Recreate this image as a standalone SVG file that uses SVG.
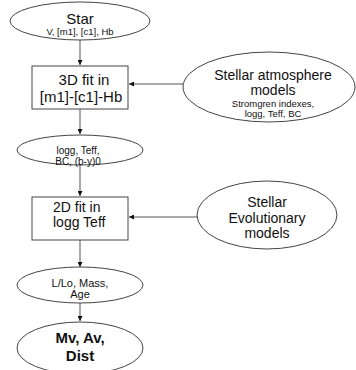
<svg xmlns="http://www.w3.org/2000/svg" width="356" height="370" viewBox="0 0 356 370">
<style>
.s{fill:#fff;stroke:#444;stroke-width:1}
.c{stroke:#555;stroke-width:1;fill:none}
text{font-family:"Liberation Sans",Arial,sans-serif;fill:#111;text-anchor:middle}
.l{font-size:14px}
.x{font-size:15px}
.m{font-size:9.5px}
.t{font-size:10px}
.u{font-size:11px}
.b{font-size:15px;font-weight:bold}
</style>
<defs>
<marker id="a" viewBox="0 0 6 6" refX="6" refY="3" markerWidth="5" markerHeight="5" orient="auto"><path d="M0,0L6,3L0,6z" fill="#111"/></marker>
</defs>
<rect width="356" height="370" fill="#fff"/>
<g id="connectors">
<line class="c" x1="80" y1="40" x2="80" y2="65" marker-end="url(#a)"/>
<line class="c" x1="183" y1="84" x2="129" y2="84" marker-end="url(#a)"/>
<line class="c" x1="80" y1="109" x2="80" y2="134" marker-end="url(#a)"/>
<line class="c" x1="80" y1="165" x2="80" y2="196" marker-end="url(#a)"/>
<line class="c" x1="197" y1="217" x2="129" y2="217" marker-end="url(#a)"/>
<line class="c" x1="80" y1="240" x2="80" y2="267" marker-end="url(#a)"/>
<line class="c" x1="80" y1="303" x2="80" y2="321" marker-end="url(#a)"/>
</g>
<g id="star">
<ellipse class="s" cx="80" cy="21" rx="70" ry="19"/>
<text class="x" x="80" y="24">Star</text>
<text class="m" x="80" y="35">V, [m1], [c1], Hb</text>
</g>
<g id="fit3d">
<rect class="s" x="32" y="66" width="96" height="43"/>
<text class="x" x="84" y="85">3D fit in</text>
<text class="x" x="81" y="102">[m1]-[c1]-Hb</text>
</g>
<g id="atmos">
<ellipse class="s" cx="269" cy="87" rx="86" ry="35"/>
<text class="l" x="273" y="80">Stellar atmosphere</text>
<text class="l" x="273" y="95">models</text>
<text class="m" x="273" y="107">Stromgren indexes,</text>
<text class="m" x="273" y="117">logg, Teff, BC</text>
</g>
<g id="logg">
<ellipse class="s" cx="80" cy="150" rx="63" ry="15"/>
<text class="t" x="78" y="154">logg, Teff,</text>
<text class="t" x="78" y="165">BC, (b-y)0</text>
</g>
<g id="fit2d">
<rect class="s" x="32" y="197" width="96" height="43"/>
<text class="l" x="53" y="212" style="text-anchor:start">2D fit in</text>
<text class="l" x="53" y="227" style="text-anchor:start">logg Teff</text>
</g>
<g id="evol">
<ellipse class="s" cx="267" cy="215" rx="70" ry="34"/>
<text class="l" x="267" y="207">Stellar</text>
<text class="l" x="267" y="223">Evolutionary</text>
<text class="l" x="267" y="238">models</text>
</g>
<g id="lum">
<ellipse class="s" cx="80" cy="285" rx="63" ry="18"/>
<text class="u" x="80" y="287">L/Lo, Mass,</text>
<text class="u" x="80" y="298">Age</text>
</g>
<g id="mv">
<ellipse class="s" cx="80" cy="348" rx="63" ry="26"/>
<text class="b" x="80" y="343">Mv, Av,</text>
<text class="b" x="80" y="361">Dist</text>
</g>
</svg>
